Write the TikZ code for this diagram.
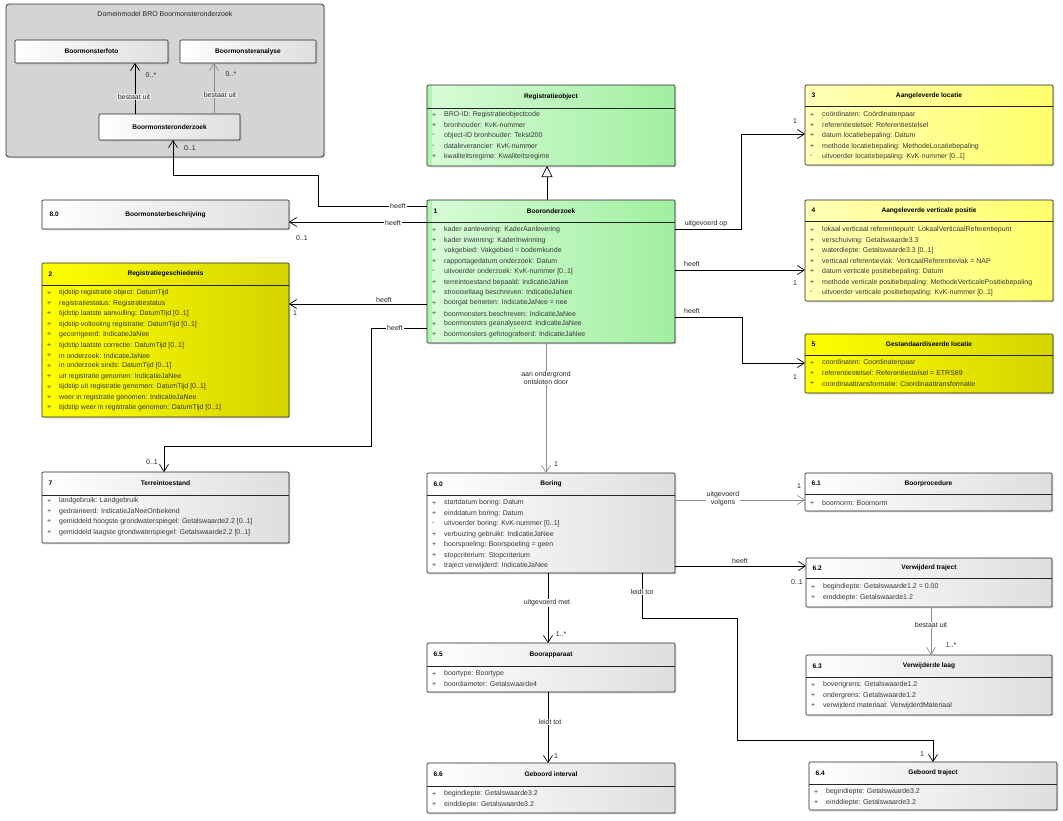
\documentclass[tikz,border=0pt]{standalone}
\usepackage{fontspec}
\setmainfont{Liberation Sans}
\usetikzlibrary{arrows.meta,shadows}

\definecolor{grL}{HTML}{D8FCD8}
\definecolor{grR}{HTML}{A0EFA0}
\definecolor{grS}{HTML}{B2F3B2}
\definecolor{ylL}{HTML}{FFFFB8}
\definecolor{ylR}{HTML}{FFFF6A}
\definecolor{ysL}{HTML}{FFFF00}
\definecolor{ysR}{HTML}{D4D400}
\definecolor{pkg}{HTML}{D4D4D4}
\definecolor{txt}{HTML}{383838}

\newcommand\fnt{\fontsize{7.0}{8}\selectfont}
\newcommand\hfnt{\fontsize{6.6}{8}\selectfont}

\tikzset{
  cls/.style={draw=black!85, line width=0.7pt, rounded corners=1pt, inner sep=0pt, outer sep=0pt,
    anchor=north west, drop shadow={shadow xshift=1.3pt,shadow yshift=-1.3pt,opacity=0.3}},
  whitecls/.style={cls, left color=white, right color=black!13},
  greencls/.style={cls, left color=grL, right color=grR,
    path picture={\fill[grS] (path picture bounding box.north west) rectangle ([xshift=5pt]path picture bounding box.south west);}},
  lycls/.style={cls, left color=ylL, right color=ylR},
  sycls/.style={cls, left color=ysL, right color=ysR},
  hdr/.style={font=\hfnt\bfseries, text=black, inner sep=0.5pt},
  attr/.style={font=\fnt, text=txt, inner sep=0pt},
  lbl/.style={font=\fnt, text=black!85, inner sep=0.8pt},
  wlbl/.style={lbl, fill=white},
  plbl/.style={lbl, fill=black!6},
  assoc/.style={draw=black, line width=0.7pt, -{Straight Barb[length=7pt,width=9pt]}},
  gassoc/.style={assoc, draw=black!45},
  gen/.style={draw=black, line width=0.7pt, -{Triangle[open,length=11pt,width=11pt,fill=white]}},
}

% name, style, x1, y1, x2, y2, header bottom, number, title
\newcommand\umlclass[9]{%
  \node[#2, minimum width={(#5-#3)*1pt}, minimum height={(#6-#4)*1pt}] (#1) at (#3,#4) {};
  \draw[black!85, line width=0.6pt] (#1.west |- 0,#7) -- (#1.east |- 0,#7);
  \node[hdr, anchor=west] (#1-n) at ({#3+6},{(#4+#7)/2}) {#8};
  \node[hdr] (#1-t) at ({(#3+#5)/2},{(#4+#7)/2}) {#9};
}
% name, style, x1, y1, x2, y2, title
\newcommand\umlsimple[7]{%
  \node[#2, minimum width={(#5-#3)*1pt}, minimum height={(#6-#4)*1pt}] (#1) at (#3,#4) {};
  \node[hdr] (#1-t) at ({(#3+#5)/2},{(#4+#6)/2}) {#7};
}
% name, x1, first row y, list
\newcommand\umlattrs[4]{%
  \foreach \s/\t [count=\i from 0] in {#4} {
    \node[attr, anchor=west] (#1-s\i) at ({#2+5},{#3+\i*10.45}) {\s};
    \node[attr, anchor=west] (#1-a\i) at ({#2+17},{#3+\i*10.45}) {\t};
  }%
}

\begin{document}
\begin{tikzpicture}[x=1pt,y=-1pt]
\useasboundingbox (0,0) rectangle (1063,820);
\fill[white] (0,0) rectangle (1063,820);

% ---------- package ----------
\node[draw=black!80, line width=0.8pt, fill=pkg, rounded corners=3pt, inner sep=0pt, outer sep=0pt,
  anchor=north west, minimum width=318pt, minimum height=153pt,
  drop shadow={shadow xshift=1.3pt,shadow yshift=-1.3pt,opacity=0.3}] (pk) at (6,4) {};
\node[lbl] (pk-t) at (165,14) {Domeinmodel BRO Boormonsteronderzoek};
\umlsimple{bmf}{whitecls}{15}{40}{168}{63}{Boormonsterfoto}
\umlsimple{bma}{whitecls}{180}{40}{316}{63}{Boormonsteranalyse}
\umlsimple{bmo}{whitecls}{99}{114}{240}{140}{Boormonsteronderzoek}

% ---------- classes ----------
\umlclass{ro}{greencls}{427}{85}{675}{166}{108}{}{Registratieobject}
\umlattrs{ro}{427}{115}{+/BRO-ID: Registratieobjectcode, +/bronhouder: KvK-nummer, -/object-ID bronhouder: Tekst200, -/dataleverancier: KvK-nummer, +/kwaliteitsregime: Kwaliteitsregime}

\umlclass{bo}{greencls}{427}{200}{675}{343}{222}{1}{Booronderzoek}
\umlattrs{bo}{427}{230}{+/kader aanlevering: KaderAanlevering, +/kader inwinning: KaderInwinning, +/vakgebied: Vakgebied = bodemkunde, +/rapportagedatum onderzoek: Datum, -/uitvoerder onderzoek: KvK-nummer [0..1], +/terreintoestand bepaald: IndicatieJaNee, +/strooisellaag beschreven: IndicatieJaNee, +/boorgat bemeten: IndicatieJaNee = nee, +/boormonsters beschreven: IndicatieJaNee, +/boormonsters geanalyseerd: IndicatieJaNee, +/boormonsters gefotografeerd: IndicatieJaNee}

\umlsimple{bb}{whitecls}{42}{200}{289}{229}{Boormonsterbeschrijving}
\node[hdr, anchor=west] (bb-n) at (49,214.5) {8.0};

\umlclass{rg}{sycls}{42}{263}{289}{417}{285}{2}{Registratiegeschiedenis}
\umlattrs{rg}{42}{293}{+/tijdstip registratie object: DatumTijd, +/registratiestatus: Registratiestatus, +/tijdstip laatste aanvulling: DatumTijd [0..1], +/tijdstip voltooiing registratie: DatumTijd [0..1], +/gecorrigeerd: IndicatieJaNee, +/tijdstip laatste correctie: DatumTijd [0..1], +/in onderzoek: IndicatieJaNee, +/in onderzoek sinds: DatumTijd [0..1], +/uit registratie genomen: IndicatieJaNee, +/tijdstip uit registratie genomen: DatumTijd [0..1], +/weer in registratie genomen: IndicatieJaNee, +/tijdstip weer in registratie genomen: DatumTijd [0..1]}

\umlclass{tt}{whitecls}{42}{472}{289}{543}{495}{7}{Terreintoestand}
\umlattrs{tt}{42}{501}{+/landgebruik: Landgebruik, +/gedraineerd: IndicatieJaNeeOnbekend, +/gemiddeld hoogste grondwaterspiegel: Getalswaarde2.2 [0..1], +/gemiddeld laagste grondwaterspiegel: Getalswaarde2.2 [0..1]}

\umlclass{al}{lycls}{805}{85}{1053}{165}{106}{3}{Aangeleverde locatie}
\umlattrs{al}{805}{115}{+/coördinaten: Coördinatenpaar, +/referentiestelsel: Referentiestelsel, +/datum locatiebepaling: Datum, +/methode locatiebepaling: MethodeLocatiebepaling, -/uitvoerder locatiebepaling: KvK-nummer [0..1]}

\umlclass{avp}{lycls}{805}{200}{1053}{301}{221}{4}{Aangeleverde verticale positie}
\umlattrs{avp}{805}{230}{+/lokaal verticaal referentiepunt: LokaalVerticaalReferentiepunt, +/verschuiving: Getalswaarde3.3, +/waterdiepte: Getalswaarde3.3 [0..1], +/verticaal referentievlak: VerticaalReferentievlak = NAP, +/datum verticale positiebepaling: Datum, +/methode verticale positiebepaling: MethodeVerticalePositiebepaling, -/uitvoerder verticale positiebepaling: KvK-nummer [0..1]}

\umlclass{gl}{sycls}{805}{334}{1053}{393}{355}{5}{Gestandaardiseerde locatie}
\umlattrs{gl}{805}{363}{+/coordinaten: Coordinatenpaar, +/referentiestelsel: Referentiestelsel = ETRS89, +/coordinaattransformatie: Coordinaattransformatie}

\umlclass{bor}{whitecls}{427}{473}{675}{573}{495}{6.0}{Boring}
\umlattrs{bor}{427}{503}{+/startdatum boring: Datum, +/einddatum boring: Datum, -/uitvoerder boring: KvK-nummer [0..1], +/verbuizing gebruikt: IndicatieJaNee, +/boorspoeling: Boorspoeling = geen, +/stopcriterium: Stopcriterium, +/traject verwijderd: IndicatieJaNee}

\umlclass{bp}{whitecls}{805}{473}{1052}{511}{494}{6.1}{Boorprocedure}
\umlattrs{bp}{805}{503}{+/boornorm: Boornorm}

\umlclass{vt}{whitecls}{806}{558}{1052}{607}{578}{6.2}{Verwijderd traject}
\umlattrs{vt}{806}{587}{+/begindiepte: Getalswaarde1.2 = 0.00, +/einddiepte: Getalswaarde1.2}

\umlclass{vl}{whitecls}{806}{655}{1052}{715}{677}{6.3}{Verwijderde laag}
\umlattrs{vl}{806}{685}{+/bovengrens: Getalswaarde1.2, +/ondergrens: Getalswaarde1.2, +/verwijderd materiaal: VerwijderdMateriaal}

\umlclass{gt}{whitecls}{809}{762}{1057}{810}{784}{6.4}{Geboord traject}
\umlattrs{gt}{809}{792}{+/begindiepte: Getalswaarde3.2, +/einddiepte: Getalswaarde3.2}

\umlclass{ba}{whitecls}{427}{643}{675}{692}{666}{6.5}{Boorapparaat}
\umlattrs{ba}{427}{674}{+/boortype: Boortype, +/boordiameter: Getalswaarde4}

\umlclass{gi}{whitecls}{427}{763}{675}{813}{786}{6.6}{Geboord interval}
\umlattrs{gi}{427}{794}{+/begindiepte: Getalswaarde3.2, +/einddiepte: Getalswaarde3.2}

% ---------- connectors ----------
% package
\draw[assoc] (135,0 |- bmo.north) -- (135,0 |- bmf.south);
\node[plbl] (l-bu1) at (134,97) {bestaat uit};
\node[lbl] (c-bu1) at (151,75) {0..*};
\draw[gassoc] (214,0 |- bmo.north) -- (214,0 |- bma.south);
\node[plbl] (l-bu2) at (220,95) {bestaat uit};
\node[lbl] (c-bu2) at (231,74) {0..*};

% Booronderzoek left side
\draw[assoc] (bo.west |- 0,206) -| (318,175) -| (173,0 |- bmo.south);
\node[wlbl] (l-h1) at (398,206) {heeft};
\node[lbl] (c-h1) at (190,148) {0..1};

\draw[assoc] (bo.west |- 0,222) -- (bb.east |- 0,222);
\node[wlbl] (l-h2) at (393,223) {heeft};
\node[lbl] (c-h2) at (302,238) {0..1};

\draw[assoc] (bo.west |- 0,304) -- (rg.east |- 0,304);
\node[lbl, anchor=south] (l-h3) at (384,304) {heeft};
\node[lbl] (c-h3) at (295,313) {1};

\draw[assoc] (bo.west |- 0,328) -| (371,446) -| (164,0 |- tt.north);
\node[wlbl] (l-h4) at (395,328) {heeft};
\node[lbl] (c-h4) at (152,462) {0..1};

% generalization
\draw[gen] (547,0 |- bo.north) -- (547,0 |- ro.south);

% Booronderzoek right side
\draw[assoc] (bo.east |- 0,229) -| (741,134) -- (al.west |- 0,134);
\node[lbl, anchor=south] (l-uo) at (706,228) {uitgevoerd op};
\node[lbl] (c-uo) at (795,121) {1};

\draw[assoc] (bo.east |- 0,270) -- (avp.west |- 0,270);
\node[lbl, anchor=south] (l-h5) at (692,268) {heeft};
\node[lbl] (c-h5) at (795,283) {1};

\draw[assoc] (bo.east |- 0,317) -| (742,363) -- (gl.west |- 0,363);
\node[lbl, anchor=south] (l-h6) at (692,315) {heeft};
\node[lbl] (c-h6) at (795,377) {1};

% Booronderzoek -> Boring
\draw[gassoc] (546,0 |- bo.south) -- (546,0 |- bor.north);
\node[wlbl, align=center] (l-ao) at (546,378) {aan ondergrond\\ontsloten door};
\node[lbl] (c-ao) at (556,464) {1};

% Boring right side
\draw[gassoc] (bor.east |- 0,500) -- (bp.west |- 0,500);
\node[wlbl, align=center] (l-uv) at (723,499) {uitgevoerd\\volgens};
\node[lbl] (c-uv) at (799,486) {1};

\draw[assoc] (bor.east |- 0,566) -- (vt.west |- 0,566);
\node[lbl, anchor=south] (l-h7) at (740,565) {heeft};
\node[lbl] (c-h7) at (797,582) {0..1};

\draw[gassoc] (931,0 |- vt.south) -- (931,0 |- vl.north);
\node[wlbl] (l-bu3) at (931,625) {bestaat uit};
\node[lbl] (c-bu3) at (951,645) {1..*};

\draw[assoc] (642,0 |- bor.south) |- (737,618) |- (933,740) -- (933,0 |- gt.north);
\node[wlbl] (l-lt1) at (642,592) {leidt tot};
\node[lbl] (c-lt1) at (922,754) {1};

% Boring -> Boorapparaat -> Geboord interval
\draw[assoc] (548,0 |- bor.south) -- (548,0 |- ba.north);
\node[wlbl] (l-um) at (547,603) {uitgevoerd met};
\node[lbl] (c-um) at (561,634) {1..*};

\draw[assoc] (548,0 |- ba.south) -- (548,0 |- gi.north);
\node[wlbl] (l-lt2) at (550,722) {leidt tot};
\node[lbl] (c-lt2) at (556,756) {1};
\end{tikzpicture}
\end{document}
